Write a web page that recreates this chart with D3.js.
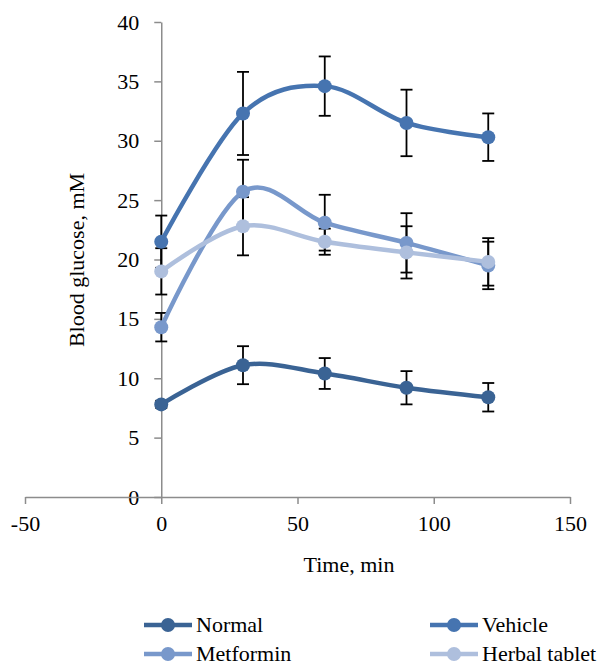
<!DOCTYPE html>
<html><head><meta charset="utf-8">
<script src="https://cdn.jsdelivr.net/npm/d3@7"></script>
<style>body{margin:0;background:#fff;} svg{display:block;}</style>
</head><body>
<svg id="chart" width="597" height="665"></svg>
<script>
const times = [0, 30, 60, 90, 120];
const seriesNames = ["Normal", "Vehicle", "Metformin", "Herbal tablet"];
const normalVals = [7.8, 11.1, 10.4, 9.2, 8.4];
const normalErr = [0.3, 1.6, 1.3, 1.4, 1.2];
const vehicleVals = [21.5, 32.3, 34.6, 31.5, 30.3];
const vehicleErr = [2.2, 3.5, 2.5, 2.8, 2.0];
const metforminVals = [14.3, 25.7, 23.1, 21.4, 19.5];
const metforminErr = [1.2, 2.7, 2.35, 2.5, 2.0];
const herbalVals = [19.0, 22.8, 21.5, 20.6, 19.8];
const herbalErr = [1.95, 2.45, 1.1, 2.2, 2.0];
const colors = ["#3a6394", "#4674b0", "#7898cb", "#aebfdd"];
const xTicks = [-50, 0, 50, 100, 150];
const yTicks = [0, 5, 10, 15, 20, 25, 30, 35, 40];

const series = [
  {name: seriesNames[0], vals: normalVals, err: normalErr, color: colors[0]},
  {name: seriesNames[1], vals: vehicleVals, err: vehicleErr, color: colors[1]},
  {name: seriesNames[2], vals: metforminVals, err: metforminErr, color: colors[2]},
  {name: seriesNames[3], vals: herbalVals, err: herbalErr, color: colors[3]}
];

const svg = d3.select("#chart");
const font = "'Liberation Serif', 'Times New Roman', serif";
const fs = "22px";
const x = d3.scaleLinear().domain([-50, 150]).range([25, 570]);
const y = d3.scaleLinear().domain([0, 40]).range([497, 22]);
const axisColor = "#8c8c8c";

const yAxis = svg.append("g").attr("transform", `translate(${x(0)},0)`)
  .call(d3.axisLeft(y).tickValues(yTicks).tickFormat(d => String(d)).tickSize(7).tickSizeOuter(0).tickPadding(15));
const xAxis = svg.append("g").attr("transform", `translate(0,${y(0)})`)
  .call(d3.axisBottom(x).tickValues(xTicks).tickFormat(d => String(d)).tickSize(7).tickSizeOuter(0).tickPadding(11));
[yAxis, xAxis].forEach(g => {
  g.select(".domain").attr("stroke", axisColor).attr("stroke-width", 1.5);
  g.selectAll(".tick line").attr("stroke", axisColor).attr("stroke-width", 1.5);
  g.selectAll(".tick text").attr("fill", "#000").style("font-family", font).style("font-size", fs);
});
xAxis.raise();

svg.append("text").attr("x", 349).attr("y", 572).attr("text-anchor", "middle")
  .style("font-family", font).style("font-size", fs).text("Time, min");
svg.append("text").attr("transform", "translate(84,260) rotate(-90)").attr("text-anchor", "middle")
  .style("font-family", font).style("font-size", fs).text("Blood glucose, mM");

const line = d3.line().x((d, i) => x(times[i])).y(d => y(d)).curve(d3.curveCardinal.tension(0));

series.forEach(s => {
  const g = svg.append("g");
  s.vals.forEach((v, i) => {
    const cx = x(times[i]);
    const top = y(v + s.err[i]), bot = y(v - s.err[i]);
    g.append("line").attr("x1", cx).attr("x2", cx).attr("y1", top).attr("y2", bot).attr("stroke", "#000").attr("stroke-width", 1.8);
    [top, bot].forEach(yy => g.append("line").attr("x1", cx - 6).attr("x2", cx + 6).attr("y1", yy).attr("y2", yy).attr("stroke", "#000").attr("stroke-width", 1.8));
  });
});

series.forEach(s => {
  svg.append("path").datum(s.vals).attr("d", line).attr("fill", "none")
    .attr("stroke", s.color).attr("stroke-width", 4.5).attr("stroke-linecap", "round");
  svg.append("g").selectAll("circle").data(s.vals).join("circle")
    .attr("cx", (d, i) => x(times[i])).attr("cy", d => y(d)).attr("r", 7).attr("fill", s.color);
});

const legendPos = [[144, 625], [430, 625], [144, 654], [430, 654]];
series.forEach((s, i) => {
  const [lx, ly] = legendPos[i];
  const g = svg.append("g");
  g.append("line").attr("x1", lx).attr("x2", lx + 48).attr("y1", ly).attr("y2", ly).attr("stroke", s.color).attr("stroke-width", 4.5);
  g.append("circle").attr("cx", lx + 24).attr("cy", ly).attr("r", 7).attr("fill", s.color);
  g.append("text").attr("x", lx + 52).attr("y", ly).attr("dy", "0.33em")
    .style("font-family", font).style("font-size", fs).text(s.name);
});
</script>
</body></html>
